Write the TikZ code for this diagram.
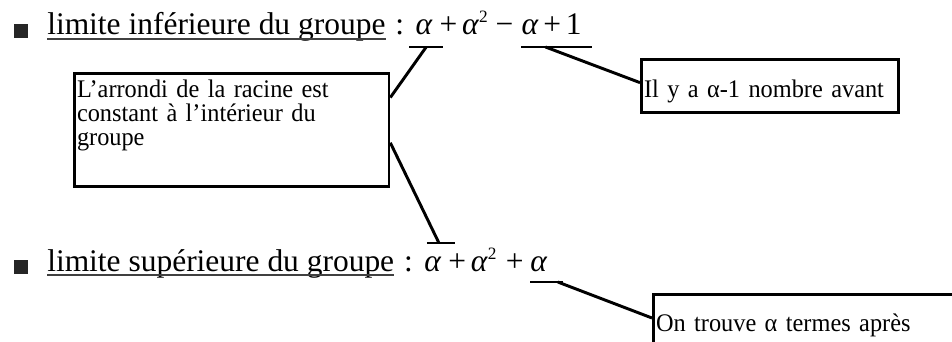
\documentclass[tikz,border=0pt]{standalone}
\usepackage{fontspec}
\setmainfont{Liberation Serif}
\newfontfamily\cadrefont[FakeStretch=0.96,WordSpace=0.85]{Liberation Serif}
\newcommand{\carre}{\raisebox{9pt}{\fontsize{13}{13}\selectfont 2}}
\usetikzlibrary{calc}

\begin{document}
\begin{tikzpicture}[x=0.75pt,y=-0.75pt,
	titre/.style={inner sep=0pt,anchor=base west,font=\fontsize{23.6}{26}\selectfont},
	cadre/.style={draw=black,line width=2pt,inner xsep=2pt,inner ysep=1.5pt,align=left,anchor=north west,font=\cadrefont\fontsize{19}{18}\selectfont},
	trait/.style={line width=2.2pt},
	souligne/.style={line width=1pt,black!75},
	puce/.style={fill=black!85,minimum size=11pt,inner sep=0pt}]
	\useasboundingbox (0,0) rectangle (952,342);
	\clip (0,0) rectangle (952,342);
	% premiere ligne
	\node[puce] (p1) at (21,31) {};
	\node[titre] (t1) at (47,35) {limite inférieure du groupe};
	\node[titre] (d1) at (t1.base east) {\hspace{0.3em}:\hspace{0.35em}\mbox{}};
	\node[titre] (a1) at (d1.base east) {\textit{α}};
	\node[titre] (r1) at (a1.base east) {\hspace{0.2em}+\hspace{0.15em}\textit{α}\carre\hspace{0.25em}−\hspace{0.25em}\mbox{}};
	\node[titre] (c1) at (r1.base east) {\textit{α}\hspace{0.15em}+\hspace{0.15em}1};
	% deuxieme ligne
	\node[puce] (p2) at (21,267) {};
	\node[titre] (t2) at (47,271) {limite supérieure du groupe};
	\node[titre] (d2) at (t2.base east) {\hspace{0.3em}:\hspace{0.35em}\mbox{}};
	\node[titre] (a2) at (d2.base east) {\textit{α}};
	\node[titre] (r2) at (a2.base east) {\hspace{0.2em}+\hspace{0.15em}\textit{α}\carre\hspace{0.3em}+\hspace{0.2em}\mbox{}};
	\node[titre] (c2) at (r2.base east) {\textit{α}};
	\draw[souligne] ($(t1.base west)+(0,4)$) -- ($(t1.base east)+(0,4)$);
	\draw[souligne] ($(t2.base west)+(0,4)$) -- ($(t2.base east)+(0,4)$);
	% cadres
	\node[cadre,text width=232pt] (b1) at (73,72) {\rule{0pt}{17pt}L’arrondi de la racine est\\constant à l’intérieur du\\groupe\\[11pt]\mbox{}};
	\node[cadre,text width=189pt] (b2) at (640,58) {\rule[-9.5pt]{0pt}{37pt}Il y a α-1 nombre avant};
	\node[cadre,text width=260pt] (b3) at (652,293) {\rule[-30pt]{0pt}{56pt}On trouve α termes après};
	% reperes
	\coordinate (m1) at ($(a1.base)+(2,12)$);
	\coordinate (m2) at ($(c1.base west)+(24,12)$);
	\coordinate (m3) at ($(a2.base)+(6,-28)$);
	\coordinate (m4) at ($(c2.base east)+(10,11)$);
	\draw[trait] ($(a1.base)+(-15,12)$) -- ($(a1.base)+(19,12)$);
	\draw[trait] ($(c1.base west)+(0,12)$) -- ($(c1.base east)+(10,12)$);
	\draw[trait] ($(a2.base)+(-6,-28)$) -- ($(a2.base)+(22,-28)$);
	\draw[trait] ($(c2.base west)+(0,11)$) -- ($(c2.base east)+(15,11)$);
	% liens
	\draw[trait] ($(b1.north east)!0.22!(b1.south east)$) -- (m1);
	\draw[trait] ($(b1.north east)!0.61!(b1.south east)$) -- (m3);
	\draw[trait] (m2) -- ($(b2.north west)!0.44!(b2.south west)$);
	\draw[trait] (m4) -- ($(b3.north west)+(0,25)$);
\end{tikzpicture}
\end{document}
